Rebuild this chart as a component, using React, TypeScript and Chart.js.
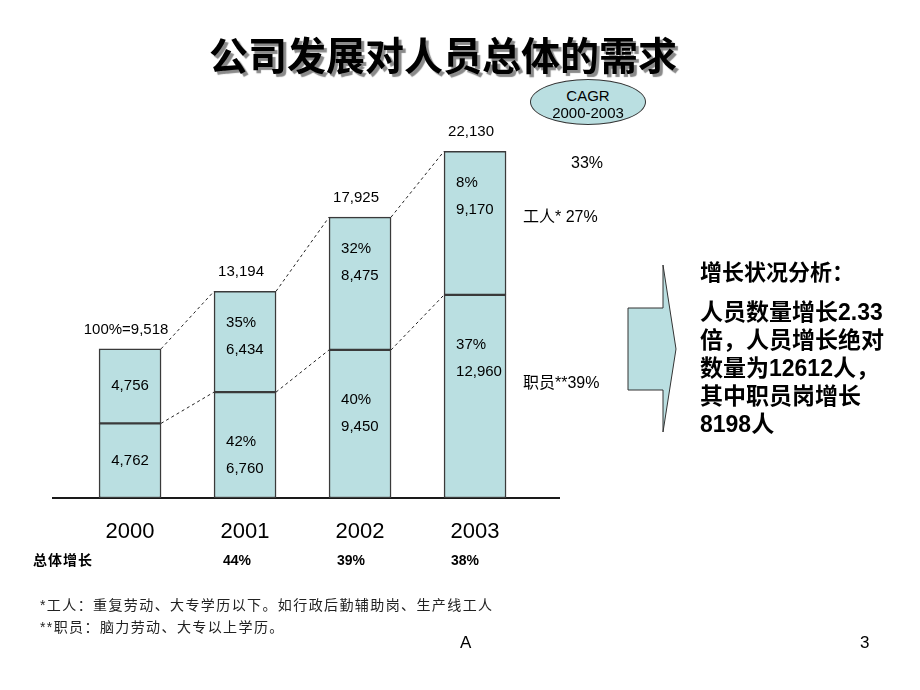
import React, { useEffect, useRef } from 'react';
import { Chart, registerables } from 'chart.js';

Chart.register(...registerables);

// ---- data ----
const years = ['2000', '2001', '2002', '2003'];
const staffCount = [4762, 6760, 9450, 12960]; // 职员 (bottom segment)
const workerCount = [4756, 6434, 8475, 9170]; // 工人 (top segment)
const workerGrowthPct: (number | null)[] = [null, 35, 32, 8];
const staffGrowthPct: (number | null)[] = [null, 42, 40, 37];
const totalGrowthPct: (number | null)[] = [null, 44, 39, 38];
const cagrTotal = 33;
const cagrWorker = 27;
const cagrStaff = 39;
const analysisLines = ['人员数量增长2.33', '倍，人员增长绝对', '数量为12612人，', '其中职员岗增长', '8198人'];

const FONT = '"Liberation Sans", Arial, "Noto Sans CJK SC", sans-serif';
const BAR_FILL = '#BADFE1';
const BAR_EDGE = '#3a3a3a';

const fmt = (v: number) => v.toLocaleString('en-US');

const segmentLabelPlugin = {
  id: 'segmentLabels',
  afterDatasetsDraw(chart: any) {
    const ctx = chart.ctx as CanvasRenderingContext2D;
    const bottom = chart.getDatasetMeta(0).data;
    const top = chart.getDatasetMeta(1).data;
    ctx.save();
    // dashed connectors between bars
    ctx.setLineDash([3, 3]);
    ctx.strokeStyle = '#222';
    ctx.lineWidth = 1;
    for (let i = 0; i < years.length - 1; i++) {
      for (const els of [top, bottom]) {
        const a = els[i].getProps(['x', 'y', 'width'], true);
        const b = els[i + 1].getProps(['x', 'y', 'width'], true);
        ctx.beginPath();
        ctx.moveTo(a.x + a.width / 2, a.y);
        ctx.lineTo(b.x - b.width / 2, b.y);
        ctx.stroke();
      }
    }
    ctx.setLineDash([]);
    ctx.fillStyle = '#000';
    ctx.font = `15px ${FONT}`;
    ctx.textBaseline = 'middle';
    for (let i = 0; i < years.length; i++) {
      const t = top[i].getProps(['x', 'y', 'base'], true);
      const b = bottom[i].getProps(['x', 'y', 'base'], true);
      const total = staffCount[i] + workerCount[i];
      ctx.textAlign = 'center';
      ctx.fillText(i === 0 ? `100%=${fmt(total)}` : fmt(total), t.x - 4, t.y - 19);
      if (workerGrowthPct[i] == null) {
        ctx.fillText(fmt(workerCount[i]), t.x, (t.y + t.base) / 2);
        ctx.fillText(fmt(staffCount[i]), b.x, (b.y + b.base) / 2);
      } else {
        ctx.textAlign = 'left';
        const lx = t.x - 19;
        ctx.fillText(`${workerGrowthPct[i]}%`, lx, t.y + 32);
        ctx.fillText(fmt(workerCount[i]), lx, t.y + 59);
        ctx.fillText(`${staffGrowthPct[i]}%`, lx, b.y + 50);
        ctx.fillText(fmt(staffCount[i]), lx, b.y + 77);
      }
    }
    ctx.restore();
  },
};

type LabelProps = {
  x: number;
  y: number;
  size: number;
  bold?: boolean;
  center?: boolean;
  color?: string;
  spacing?: number;
  children: React.ReactNode;
  extra?: React.CSSProperties;
};

function Label({ x, y, size, bold, center, color, spacing, children, extra }: LabelProps) {
  return (
    <div
      style={{
        position: 'absolute',
        left: x,
        top: y,
        transform: `translate(${center ? '-50%' : '0'}, -50%)`,
        fontSize: size,
        lineHeight: 1.15,
        fontWeight: bold ? 700 : 400,
        color: color || '#000',
        whiteSpace: 'nowrap',
        letterSpacing: spacing ? `${spacing}px` : undefined,
        fontFamily: FONT,
        ...extra,
      }}
    >
      {children}
    </div>
  );
}

export default function App() {
  const canvasRef = useRef<HTMLCanvasElement>(null);

  useEffect(() => {
    if (!canvasRef.current) return;
    const chart = new Chart(canvasRef.current, {
      type: 'bar',
      data: {
        datasets: [
          {
            label: '职员',
            data: staffCount.map((v, i) => ({ x: i, y: v })),
            backgroundColor: BAR_FILL,
            borderColor: BAR_EDGE,
            borderWidth: 1.5,
            borderSkipped: false,
            barThickness: 62,
          },
          {
            label: '工人',
            data: workerCount.map((v, i) => ({ x: i, y: v })),
            backgroundColor: BAR_FILL,
            borderColor: BAR_EDGE,
            borderWidth: 1.5,
            borderSkipped: false,
            barThickness: 62,
          },
        ],
      } as any,
      options: {
        responsive: false,
        animation: false,
        devicePixelRatio: 1,
        layout: { padding: { top: 100, left: 53, right: 361, bottom: 0 } },
        plugins: {
          legend: { display: false },
          tooltip: { enabled: false },
          title: { display: false },
        },
        scales: {
          x: {
            type: 'linear',
            stacked: true,
            min: -0.67,
            max: 3.73,
            offset: false,
            grid: { display: false, drawTicks: false },
            border: { display: true, color: '#1a1a1a', width: 2 },
            afterBuildTicks: (s: any) => {
              s.ticks = years.map((_, i) => ({ value: i }));
            },
            afterFit: (s: any) => {
              s.height = 192;
            },
            ticks: {
              padding: 21,
              color: '#000',
              autoSkip: false,
              maxRotation: 0,
              font: { size: 22, family: FONT },
              callback: (v: any) => years[v] ?? '',
            },
          },
          y: { display: false, stacked: true, min: 0, max: 25400 },
        },
      } as any,
      plugins: [segmentLabelPlugin],
    });
    return () => chart.destroy();
  }, []);

  return (
    <div
      style={{
        position: 'absolute',
        left: 0,
        top: 0,
        width: 920,
        height: 690,
        background: '#fff',
        overflow: 'hidden',
        fontFamily: FONT,
      }}
    >
      <canvas
        ref={canvasRef}
        width={920}
        height={690}
        style={{ position: 'absolute', left: 0, top: 0, width: 920, height: 690 }}
      />

      {/* title */}
      <Label x={443} y={57} size={39} bold center extra={{ textShadow: '3px 3px 1px #8a8a8a' }}>
        公司发展对人员总体的需求
      </Label>

      {/* CAGR bubble */}
      <div
        style={{
          position: 'absolute',
          left: 530,
          top: 79,
          width: 116,
          height: 46,
          borderRadius: '50%',
          background: BAR_FILL,
          border: '1px solid #333',
          boxSizing: 'border-box',
        }}
      />
      <Label x={588} y={96} size={15} center>CAGR</Label>
      <Label x={588} y={113} size={15} center>2000-2003</Label>
      <Label x={587} y={163} size={16} center>{cagrTotal}%</Label>
      <Label x={523} y={217} size={16}>工人* {cagrWorker}%</Label>
      <Label x={523} y={383} size={16}>职员**{cagrStaff}%</Label>

      {/* growth row */}
      <Label x={33} y={560} size={14} bold spacing={1}>总体增长</Label>
      {totalGrowthPct.map((p, i) =>
        p == null ? null : (
          <Label key={i} x={237 + (i - 1) * 114} y={560} size={14} bold center>
            {p}%
          </Label>
        )
      )}

      {/* footnotes */}
      <Label x={40} y={605} size={14} spacing={1.4} color="#222">
        *工人：重复劳动、大专学历以下。如行政后勤辅助岗、生产线工人
      </Label>
      <Label x={40} y={627} size={14} spacing={1.4} color="#222">
        **职员：脑力劳动、大专以上学历。
      </Label>
      <Label x={460} y={643} size={17}>A</Label>
      <Label x={860} y={643} size={17}>3</Label>

      {/* arrow */}
      <svg width={920} height={690} style={{ position: 'absolute', left: 0, top: 0 }}>
        <polygon
          points="628,308 663,308 663,265 676,349 663,432 663,390 628,390"
          fill={BAR_FILL}
          stroke="#333"
          strokeWidth={1}
        />
      </svg>

      {/* analysis text */}
      <Label x={700} y={273} size={22} bold>增长状况分析：</Label>
      {analysisLines.map((line, i) => (
        <Label key={i} x={700} y={312 + i * 28} size={23} bold>
          {line}
        </Label>
      ))}
    </div>
  );
}
